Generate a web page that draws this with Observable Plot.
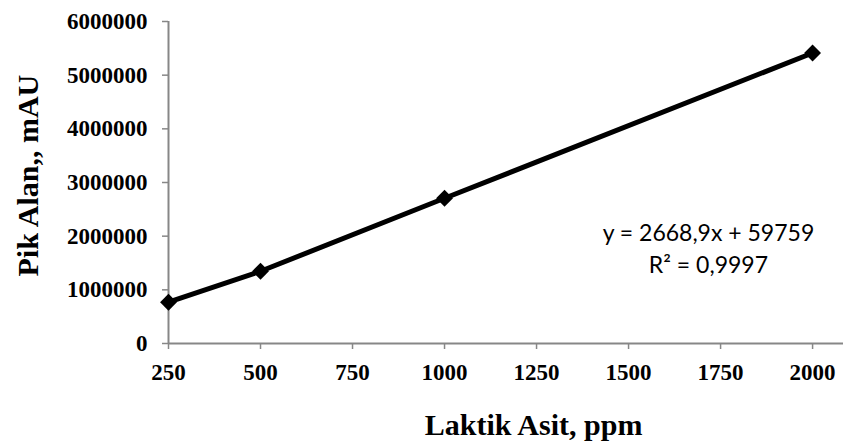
<!DOCTYPE html>
<html>
<head>
<meta charset="utf-8">
<script src="https://cdn.jsdelivr.net/npm/d3@7"></script>
<script src="https://cdn.jsdelivr.net/npm/@observablehq/plot@0.6"></script>
<style>
  html, body { margin: 0; padding: 0; background: #ffffff; }
  #chart { width: 843px; height: 444px; }
</style>
</head>
<body>
<div id="chart"></div>
<script>
// Calibration standards: lactic acid concentration (ppm) vs. peak area (mAU)
const concentrations = [250, 500, 1000, 2000];
const peakAreas = [769000, 1346000, 2706000, 5413000];

// Axis tick values
const xTicks = [250, 500, 750, 1000, 1250, 1500, 1750, 2000];
const yTicks = [0, 1000000, 2000000, 3000000, 4000000, 5000000, 6000000];

// Linear fit reported on the chart
const slope = 2668.9;
const intercept = 59759;
const rSquared = 0.9997;

const comma = v => String(v).replace(".", ",");
const equation = `y = ${comma(slope)}x + ${intercept}\nR² = ${comma(rSquared)}`;

const points = concentrations.map((c, i) => ({conc: c, area: peakAreas[i]}));

const axisGray = "#878787";
const serif = "'Liberation Serif', 'Times New Roman', serif";

const chart = Plot.plot({
  width: 843,
  height: 444,
  marginLeft: 168,
  marginRight: 0,
  marginTop: 21,
  marginBottom: 101,
  x: {domain: [250, 2084]},
  y: {domain: [0, 6000000]},
  style: {background: "#ffffff", color: "#000000", fontFamily: serif},
  marks: [
    // axis lines
    Plot.ruleY([0], {stroke: axisGray, strokeWidth: 2}),
    Plot.ruleX([250], {y1: 0, y2: 6000000, stroke: axisGray, strokeWidth: 2}),
    Plot.axisX(xTicks, {
      tickSize: 6, tickPadding: 14, stroke: axisGray, strokeWidth: 1.5,
      fill: "#000000", fontSize: 23, fontWeight: "bold", fontFamily: serif,
      tickFormat: d => String(d), label: null
    }),
    Plot.axisY(yTicks, {
      tickSize: 6, tickPadding: 15, stroke: axisGray, strokeWidth: 1.5,
      fill: "#000000", fontSize: 23, fontWeight: "bold", fontFamily: serif,
      tickFormat: d3.format("d"), label: null
    }),
    // data series
    Plot.line(points, {x: "conc", y: "area", stroke: "#000000", strokeWidth: 5}),
    Plot.dot(points, {x: "conc", y: "area", symbol: "diamond2", r: 7.6, fill: "#000000", stroke: "none"}),
    // regression equation
    Plot.text([equation], {
      x: 1717, y: 1806000, text: d => d,
      fontSize: 23, fontFamily: "Lato, 'Open Sans', sans-serif",
      fill: "#000000", textAnchor: "middle", lineAnchor: "middle", lineHeight: 1.39
    }),
    // axis titles
    Plot.text(["Laktik Asit, ppm"], {
      x: 1242, frameAnchor: "bottom", dy: 82, text: d => d,
      fontSize: 30, fontWeight: "bold", fontFamily: serif, fill: "#000000",
      textAnchor: "middle", lineAnchor: "middle"
    }),
    Plot.text(["Pik Alan,, mAU"], {
      y: 3128000, frameAnchor: "left", dx: -140, rotate: -90, text: d => d,
      fontSize: 30, fontWeight: "bold", fontFamily: serif, fill: "#000000",
      textAnchor: "middle", lineAnchor: "middle"
    })
  ]
});

document.getElementById("chart").appendChild(chart);
</script>
</body>
</html>
